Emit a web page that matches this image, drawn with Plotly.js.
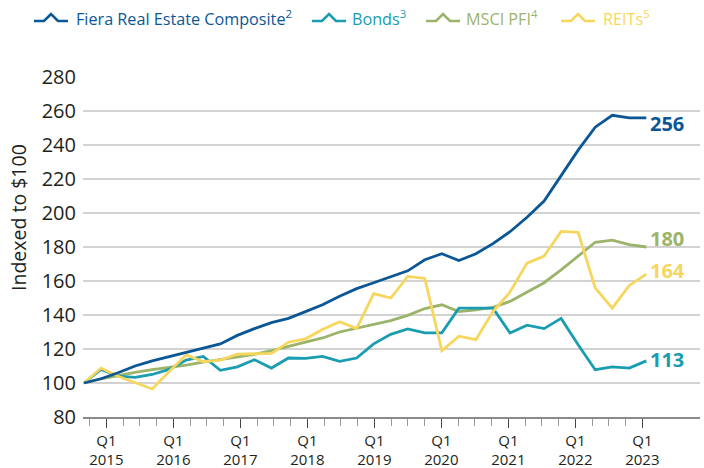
<!DOCTYPE html>
<html><head><meta charset="utf-8">
<script src="https://cdn.plot.ly/plotly-3.0.1.min.js"></script>
<style>html,body{margin:0;padding:0;background:#fff}#chart{width:704px;height:468px}</style>
</head><body><div id="chart"></div>
<script>
// ---- data ----
const quarters = ['Q4 2014',
  'Q1 2015','Q2 2015','Q3 2015','Q4 2015',
  'Q1 2016','Q2 2016','Q3 2016','Q4 2016',
  'Q1 2017','Q2 2017','Q3 2017','Q4 2017',
  'Q1 2018','Q2 2018','Q3 2018','Q4 2018',
  'Q1 2019','Q2 2019','Q3 2019','Q4 2019',
  'Q1 2020','Q2 2020','Q3 2020','Q4 2020',
  'Q1 2021','Q2 2021','Q3 2021','Q4 2021',
  'Q1 2022','Q2 2022','Q3 2022','Q4 2022',
  'Q1 2023'];
const fiera = [100,102.5,106,110,113,115.5,118,120.8,123,128,132,135.5,138,142,146,151,155.5,159,162.5,166,172.5,176,172,176,182,189,197.5,207,222,237,250.5,257.5,256,256];
const bonds = [100,108,104,103.3,105,108,113.5,115.6,107.5,109.5,113.7,108.8,114.7,114.5,115.6,112.7,114.7,123,128.6,131.8,129.5,129.5,144,143.8,144,129.4,134,132,138,122.5,107.8,109.5,108.8,113];
const msci = [100,102.5,104.3,106.3,107.8,109,110.5,112.3,113.9,115.4,116.8,119,121.6,124,126.5,130,132.2,134.2,136.7,139.8,143.8,146,142,143,144.5,148,153.5,159,166.5,174.5,182.8,184,181.4,180];
const reits = [100,108.8,104,100.4,96.5,106.8,116.5,112.5,113.5,117,117,117.4,124,126,131.5,136,132,152.5,150,162.7,161.5,119,127.5,125.5,142,153.5,170.5,174.7,189.2,188.6,156,144,157.4,164];
const seriesNames = ['Fiera Real Estate Composite','Bonds','MSCI PFI','REITs'];
const footnotes = ['2','3','4','5'];
const yTicks = [80,100,120,140,160,180,200,220,240,260,280];
const yTitle = 'Indexed to $100';

// ---- styling ----
const colors = ['#0b5796','#1a9cb1','#9cb36a','#f6d65d'];
const seriesData = [fiera, bonds, msci, reits];
const FONT = '"Open Sans", "Noto Sans", sans-serif';
const L = 83, T = 77, W = 617, H = 340;
const px2x = p => (p - L) / W;
const py2y = p => (T + H - p) / H;

const xIdx = quarters.map((_, i) => i);
const q1Idx = xIdx.filter(i => quarters[i].startsWith('Q1'));
const q1Text = q1Idx.map(i => quarters[i].replace(' ', '<br>'));
const otherIdx = xIdx.filter(i => !quarters[i].startsWith('Q1'));

const drawOrder = [2, 1, 3, 0];
const traces = drawOrder.map(s => ({
  type: 'scatter', mode: 'lines',
  x: xIdx, y: seriesData[s], text: quarters,
  name: seriesNames[s], xaxis: 'x2', yaxis: 'y',
  line: {color: colors[s], width: 2.8},
  hovertemplate: '%{text}: %{y}<extra>' + seriesNames[s] + '</extra>'
}));
// empty trace so the quarter-tick axis (x) gets its own subplot drawn
traces.unshift({type: 'scatter', mode: 'lines', x: [q1Idx[0]], y: [null], xaxis: 'x', yaxis: 'y', hoverinfo: 'skip', showlegend: false});

// end labels
const endShift = [-6, 1, 9, 4];
const annotations = seriesData.map((d, s) => ({
  xref: 'x2', yref: 'y', x: xIdx[xIdx.length - 1], y: d[d.length - 1],
  text: '<b>' + Math.round(d[d.length - 1]) + '</b>',
  showarrow: false, xanchor: 'left', yanchor: 'middle', xshift: 2, yshift: endShift[s],
  font: {family: FONT, size: 20, color: colors[s]}
}));

// y title (placed as in the reference, above plot centre)
annotations.push({
  xref: 'paper', yref: 'paper', x: px2x(18), y: py2y(218),
  xanchor: 'center', yanchor: 'middle', showarrow: false, textangle: -90,
  text: yTitle, font: {family: FONT, size: 19.5, color: '#231f20'}
});

// legend (custom, to mimic the peaked icons)
const legIcon = [34, 312, 426, 561];
const legText = [74, 350, 464, 601];
const shapes = [];
seriesNames.forEach((n, s) => {
  const x0 = legIcon[s], yb = 21, yp = 14;
  const pts = [[x0, yb], [x0 + 10, yb], [x0 + 17, yp], [x0 + 24, yb], [x0 + 34, yb]];
  shapes.push({
    type: 'path', xref: 'paper', yref: 'paper',
    path: pts.map((p, i) => (i ? 'L' : 'M') + px2x(p[0]) + ',' + py2y(p[1])).join(' '),
    line: {color: colors[s], width: 2.6}
  });
  annotations.push({
    xref: 'paper', yref: 'paper', x: px2x(legText[s]), y: py2y(18.5),
    xanchor: 'left', yanchor: 'middle', showarrow: false,
    text: n + '<sup>' + footnotes[s] + '</sup>',
    font: {family: FONT, size: 16.2, color: colors[s]}
  });
});

const layout = {
  width: 704, height: 468,
  margin: {l: L, r: 704 - L - W, t: T, b: 468 - T - H},
  paper_bgcolor: '#fff', plot_bgcolor: '#fff',
  showlegend: false,
  font: {family: FONT, color: '#231f20'},
  xaxis: {
    type: 'linear', range: [-(89.6 - L) / 16.75, -(89.6 - L) / 16.75 + W / 16.75],
    tickmode: 'array', tickvals: q1Idx, ticktext: q1Text,
    ticks: 'outside', ticklen: 9, tickcolor: '#444', tickwidth: 1,
    minor: {ticks: 'outside', tickmode: 'array', tickvals: otherIdx, ticklen: 7, tickcolor: '#9a9a9a', tickwidth: 1, showgrid: false},
    showgrid: false, zeroline: false,
    showline: true, linecolor: '#8a8a8a', linewidth: 1.5,
    tickfont: {family: FONT, size: 15, color: '#231f20'},
    fixedrange: true
  },
  xaxis2: {
    type: 'linear', overlaying: 'x', visible: false,
    range: [-(84 - L) / 17.04, -(84 - L) / 17.04 + W / 17.04],
    fixedrange: true
  },
  yaxis: {
    range: [80, 280], tickmode: 'array', tickvals: yTicks,
    showgrid: true, gridcolor: '#d2d2d2', gridwidth: 1.3, zeroline: false,
    showline: false, ticks: '', ticklabelstandoff: 6,
    tickfont: {family: FONT, size: 20, color: '#231f20'},
    fixedrange: true
  },
  annotations: annotations,
  shapes: shapes
};

Plotly.newPlot('chart', traces, layout, {displayModeBar: false, staticPlot: true});
</script>
</body></html>
